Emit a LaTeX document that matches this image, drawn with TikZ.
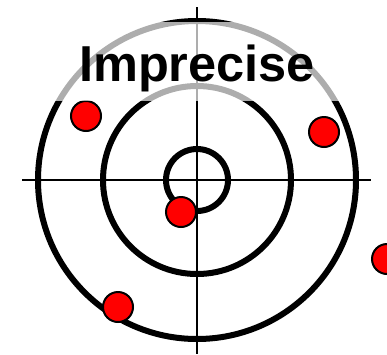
\documentclass[tikz,border=0pt]{standalone}
\usepackage{fontspec}
\newfontfamily\titlefont{Liberation Sans}
\usepackage{tikz}
\usetikzlibrary{positioning}

\begin{document}
\begin{tikzpicture}[
    x=1pt, y=-1pt,
    ring/.style={draw, line width=6pt},
    hair/.style={draw, line width=2.8pt},
    shot/.style={circle, draw, fill=red, line width=2pt, minimum size=30pt, inner sep=0pt},
    cover/.style={rectangle, fill=white, fill opacity=0.68, text opacity=1, inner sep=0pt,
        minimum width=350pt, minimum height=79pt, text height=40.4pt, text depth=0pt,
        font=\titlefont\bfseries\fontsize{50.5}{50.5}\selectfont}
]
\useasboundingbox (0,0) rectangle (387,354);
\clip (0,0) rectangle (387,354);
\coordinate (centre) at (197,180);

% crosshair
\draw[hair] (22,180) -- (371,180);
\draw[hair] (197,7) -- (197,354);

% rings
\draw[ring] (centre) circle[radius=159pt];
\draw[ring] (centre) circle[radius=94pt];
\draw[ring] (centre) circle[radius=31pt];

% shots
\node[shot] (shotA) at (86,116) {};
\node[shot] (shotB) at (324,132) {};
\node[shot] (shotC) at (181,212) {};
\node[shot] (shotD) at (118,307) {};
\node[shot] (shotE) at (387,259) {};

\node[cover] (title) at (197,61.5) {Imprecise};
\end{tikzpicture}
\end{document}
